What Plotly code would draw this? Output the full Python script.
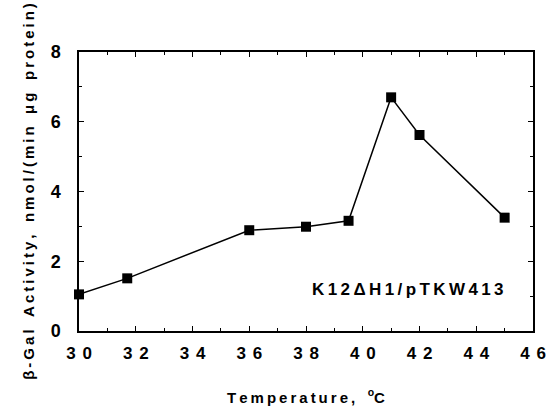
import plotly.graph_objects as go

temperature = [30, 31.7, 36, 38, 39.5, 41, 42, 45]
activity = [1.05, 1.51, 2.89, 2.99, 3.16, 6.70, 5.62, 3.25]

x_ticks = [30, 32, 34, 36, 38, 40, 42, 44, 46]
y_ticks = [0, 2, 4, 6, 8]

THIN = "\u2009"
NBSP = "\u00a0"

def spaced(s, sep=THIN):
    return sep.join(list(s))

def spaced_words(words, letter_sep=THIN, word_sep=NBSP * 2):
    return word_sep.join(spaced(w, letter_sep) for w in words)

x_labels = [spaced(str(v), THIN * 2) for v in x_ticks]
y_labels = [str(v) for v in y_ticks]

strain_label = "K12ΔH1/pTKW413"
x_title = spaced_words(["Temperature,"]) + NBSP * 3 + "<sup>o</sup>C"
y_title = spaced_words(["β-Gal", "Activity,", "nmol/(min", "μg", "protein)"], word_sep=NBSP * 3)

font_family = "Liberation Sans, Arial, sans-serif"

fig = go.Figure()
fig.add_trace(go.Scatter(
    x=temperature, y=activity, mode="lines+markers",
    line=dict(color="black", width=1.5),
    marker=dict(symbol="square", size=10, color="black"),
    showlegend=False, cliponaxis=False, hoverinfo="skip",
))

fig.add_annotation(
    x=0.94, y=0.15, xref="paper", yref="paper", xanchor="right", yanchor="middle",
    text=spaced(strain_label), showarrow=False,
    font=dict(family=font_family, size=17, color="black", weight="bold"),
)

fig.update_layout(
    width=546, height=408,
    margin=dict(l=79, r=13, t=52, b=77, autoexpand=False),
    paper_bgcolor="white", plot_bgcolor="white",
    font=dict(family=font_family, color="black"),
    xaxis=dict(
        range=[30, 46], tickvals=x_ticks, ticktext=x_labels,
        ticks="inside", ticklen=5, tickwidth=1.2, tickcolor="black",
        minor=dict(dtick=1, tick0=30, ticks="inside", ticklen=3, tickwidth=1, tickcolor="black"),
        showline=True, linecolor="black", linewidth=1.5, mirror="ticks",
        showgrid=False, zeroline=False, automargin=False,
        tickfont=dict(size=17, family=font_family, weight="bold"),
        ticklabelstandoff=6,
        title=dict(text=x_title, font=dict(size=15, family=font_family, weight="bold"), standoff=30),
    ),
    yaxis=dict(
        range=[0, 8], tickvals=y_ticks, ticktext=y_labels,
        ticks="inside", ticklen=5, tickwidth=1.2, tickcolor="black",
        minor=dict(dtick=1, tick0=0, ticks="inside", ticklen=3, tickwidth=1, tickcolor="black"),
        showline=True, linecolor="black", linewidth=1.5, mirror="ticks",
        showgrid=False, zeroline=False, automargin=False,
        tickfont=dict(size=18, family=font_family, weight="bold"),
        ticklabelstandoff=13,
        title=dict(text=y_title, font=dict(size=15, family=font_family, weight="bold"), standoff=12),
    ),
)

fig.write_html("out.html", config={"displayModeBar": False},
               post_script="document.body.style.margin='0';")
